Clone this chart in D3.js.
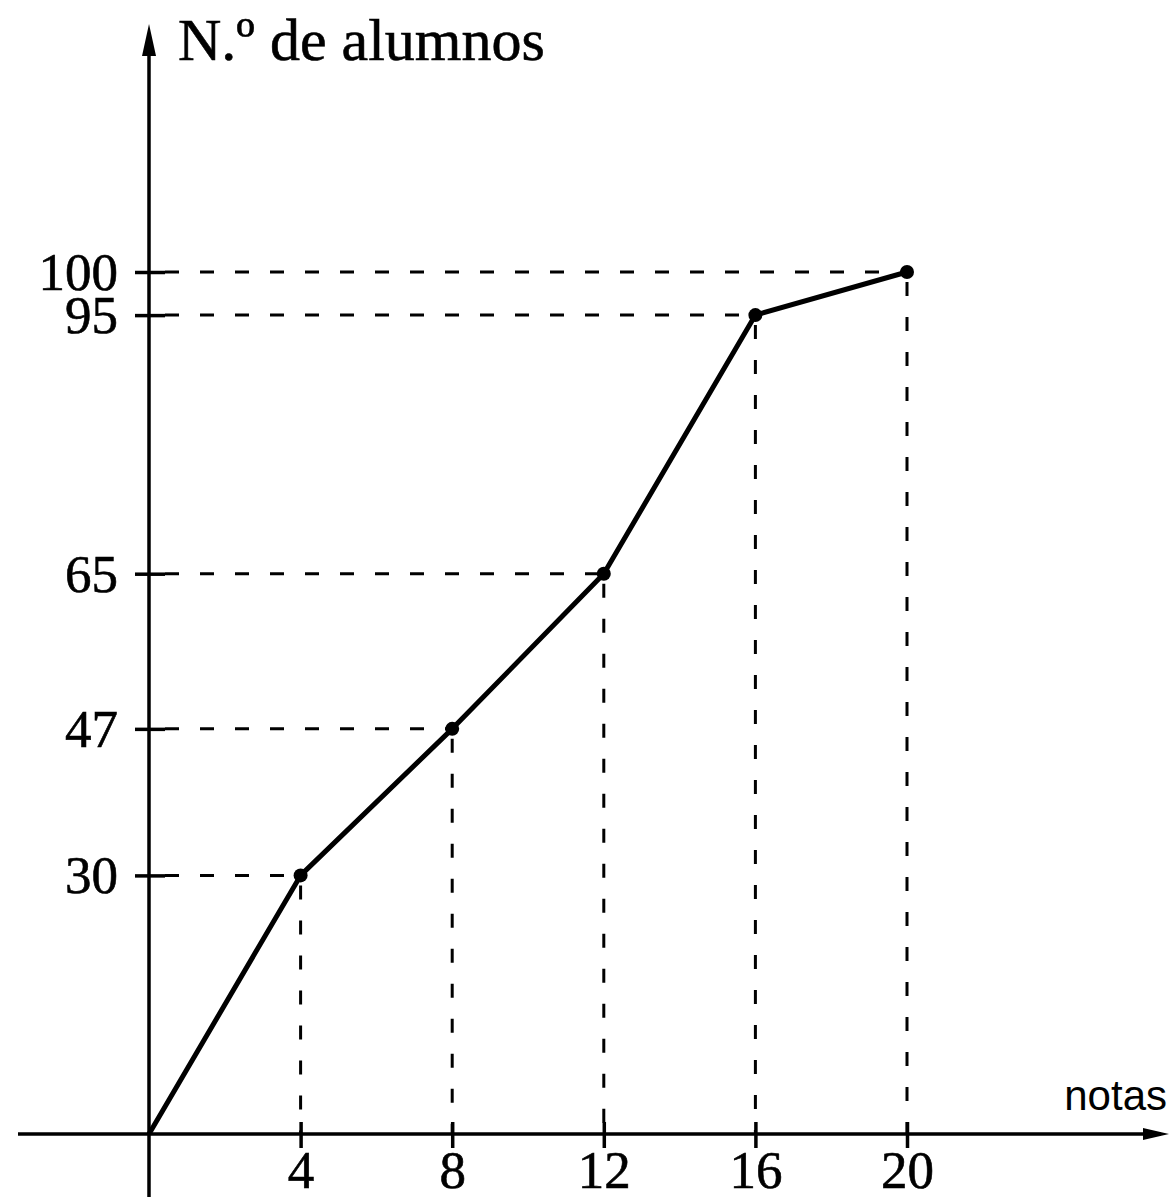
<!DOCTYPE html>
<html>
<head>
<meta charset="utf-8">
<script src="https://cdn.jsdelivr.net/npm/d3@7"></script>
<style>
  html, body { margin: 0; padding: 0; background: #fff; }
  svg { display: block; }
</style>
</head>
<body>
<script>
const notas = [0, 4, 8, 12, 16, 20];
const alumnos = [0, 30, 47, 65, 95, 100];
const xTickValues = [4, 8, 12, 16, 20];
const xTickLabels = ["4", "8", "12", "16", "20"];
const yTickValues = [30, 47, 65, 95, 100];
const yTickLabels = ["30", "47", "65", "95", "100"];
const yTitle = "N.º de alumnos";
const xTitle = "notas";

const W = 1169, H = 1201;
const svg = d3.select("body").append("svg").attr("width", W).attr("height", H);

const x = d3.scaleLinear().domain([0, 20]).range([149, 907]);
const y = d3.scaleLinear().domain([0, 100]).range([1134, 272]);

const points = notas.map((n, i) => ({ x: n, y: alumnos[i] }));
const ink = "#000";
const serif = "'Liberation Serif', 'DejaVu Serif', serif";

// dashed guide lines
const guides = svg.append("g").attr("stroke", ink).attr("stroke-width", 3)
  .attr("stroke-dasharray", "14,21").attr("fill", "none");
points.filter(p => p.x > 0).forEach(p => {
  guides.append("line").attr("x1", x(0) + 16).attr("x2", x(p.x))
    .attr("y1", y(p.y)).attr("y2", y(p.y));
  guides.append("line").attr("x1", x(p.x)).attr("x2", x(p.x))
    .attr("y1", y(p.y) + 10).attr("y2", y(0));
});

// axes lines
const axes = svg.append("g").attr("stroke", ink).attr("stroke-width", 3.5);
axes.append("line").attr("x1", 18).attr("x2", W - 8).attr("y1", y(0)).attr("y2", y(0));
axes.append("line").attr("x1", x(0)).attr("x2", x(0)).attr("y1", H - 4).attr("y2", 50);

// arrow heads
svg.append("path").attr("fill", ink)
  .attr("d", `M${x(0)},24 L${x(0) - 7},56 L${x(0) + 7},56 Z`);
svg.append("path").attr("fill", ink)
  .attr("d", `M${W},${y(0)} L${W - 26},${y(0) - 6} L${W - 26},${y(0) + 6} Z`);

// ticks via d3 axes
const yAxis = d3.axisLeft(y).tickValues(yTickValues)
  .tickFormat((d, i) => yTickLabels[i]).tickSize(0).tickPadding(31);
const gy = svg.append("g").attr("transform", `translate(${x(0)},0)`).call(yAxis);
gy.select(".domain").remove();
gy.selectAll(".tick").append("line").attr("x1", -14).attr("x2", 16)
  .attr("stroke", ink).attr("stroke-width", 3.5);
gy.selectAll(".tick text").attr("font-family", serif).attr("font-size", 53)
  .attr("fill", ink).attr("stroke", ink).attr("stroke-width", 0.6).attr("dy", "0.33em");

const xAxis = d3.axisBottom(x).tickValues(xTickValues)
  .tickFormat((d, i) => xTickLabels[i]).tickSize(0).tickPadding(0);
const gx = svg.append("g").attr("transform", `translate(0,${y(0)})`).call(xAxis);
gx.select(".domain").remove();
gx.selectAll(".tick").append("line").attr("y1", -12).attr("y2", 14)
  .attr("stroke", ink).attr("stroke-width", 3.5);
gx.selectAll(".tick text").attr("font-family", serif).attr("font-size", 53)
  .attr("fill", ink).attr("stroke", ink).attr("stroke-width", 0.6)
  .attr("dy", null).attr("y", 54);

// polyline
const line = d3.line().x(d => x(d.x)).y(d => y(d.y));
svg.append("path").datum(points).attr("d", line).attr("fill", "none")
  .attr("stroke", ink).attr("stroke-width", 5).attr("stroke-linejoin", "round");
svg.append("g").selectAll("circle").data(points.filter(p => p.x > 0)).join("circle")
  .attr("cx", d => x(d.x)).attr("cy", d => y(d.y)).attr("r", 7).attr("fill", ink);

// titles
svg.append("text").attr("x", 178).attr("y", 60).attr("font-family", serif)
  .attr("font-size", 60).attr("fill", ink).attr("stroke", ink).attr("stroke-width", 0.6)
  .text(yTitle);
svg.append("text").attr("x", W - 2).attr("y", 1110).attr("text-anchor", "end")
  .attr("font-family", "'Liberation Sans', Arial, sans-serif").attr("font-size", 42)
  .attr("fill", ink).text(xTitle);
</script>
</body>
</html>
